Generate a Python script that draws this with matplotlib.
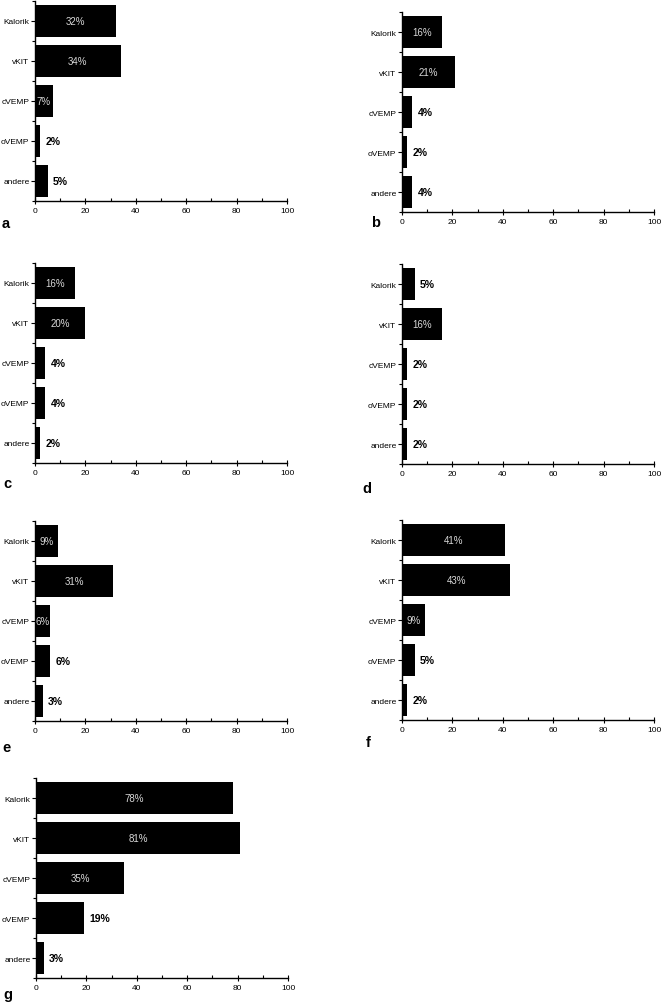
import matplotlib.pyplot as plt
import numpy as np

plt.rcParams['font.family'] = ['Liberation Sans', 'DejaVu Sans']

categories = ['Kalorik', 'vKIT', 'cVEMP', 'oVEMP', 'andere']

# values per panel (percent)
values_a = [32, 34, 7, 2, 5]
values_b = [16, 21, 4, 2, 4]
values_c = [16, 20, 4, 4, 2]
values_d = [5, 16, 2, 2, 2]
values_e = [9, 31, 6, 6, 3]
values_f = [41, 43, 9, 5, 2]
values_g = [78, 81, 35, 19, 3]

# which labels sit inside the bar (light text) vs. outside (bold black)
inside_a = [True, True, True, False, False]
inside_b = [True, True, False, False, False]
inside_c = [True, True, False, False, False]
inside_d = [False, True, False, False, False]
inside_e = [True, True, True, False, False]
inside_f = [True, True, True, False, False]
inside_g = [True, True, True, False, False]

panel_letters = ['a', 'b', 'c', 'd', 'e', 'f', 'g']

W, H = 661, 1004
fig = plt.figure(figsize=(W / 100, H / 100), dpi=100)

# axes boxes in pixels: left, bottom (from top), width
boxes = [
    (35, 202), (402, 213),
    (35, 464), (402, 465),
    (35, 722), (402, 721),
    (36, 979),
]
# panel letter positions (x, baseline y) in pixels
letter_pos = [(2, 228), (371, 227), (3, 488), (362, 493), (2, 752), (366, 747), (3, 999)]

all_values = [values_a, values_b, values_c, values_d, values_e, values_f, values_g]
all_inside = [inside_a, inside_b, inside_c, inside_d, inside_e, inside_f, inside_g]

y = np.arange(len(categories))

for i in range(7):
    left, bottom = boxes[i]
    ax = fig.add_axes([left / W, 1 - bottom / H, 252 / W, 200 / H])
    vals = all_values[i]
    ax.barh(y, vals, height=0.8, color='black')
    ax.set_xlim(0, 100)
    ax.set_ylim(4.5, -0.5)
    ax.set_yticks(y)
    ax.set_yticklabels(categories, fontsize=6)
    ax.set_yticks(np.arange(-0.5, 5, 1), minor=True)
    ax.set_xticks(np.arange(0, 101, 20))
    ax.set_xticks(np.arange(0, 101, 10), minor=True)
    ax.tick_params(axis='x', which='major', direction='inout', length=4, width=0.8, labelsize=6, pad=2)
    ax.tick_params(axis='x', which='minor', direction='in', length=2, width=0.8)
    ax.tick_params(axis='y', which='major', direction='out', length=3, width=0.8, pad=1)
    ax.tick_params(axis='y', which='minor', direction='out', length=2, width=0.8)
    for s in ['top', 'right']:
        ax.spines[s].set_visible(False)
    for s in ['left', 'bottom']:
        ax.spines[s].set_linewidth(1.0)

    for j, v in enumerate(vals):
        if all_inside[i][j]:
            ax.text(v / 2, j, f'{v}%', color='#d8d8d8', fontsize=7,
                    ha='center', va='center')
        else:
            ax.annotate(f'{v}%', (v, j), xytext=(4, 0), textcoords='offset points',
                        fontsize=7.5, fontweight='bold', ha='left', va='center')

    lx, ly = letter_pos[i]
    fig.text(lx / W, 1 - ly / H, panel_letters[i], fontsize=10.5, fontweight='bold',
             ha='left', va='baseline')

plt.savefig('out.png', dpi=100)
